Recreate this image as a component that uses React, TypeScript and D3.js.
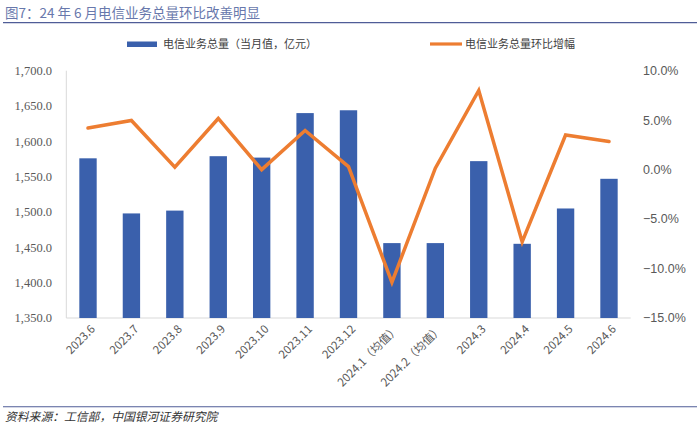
import React from "react";
import * as d3 from "d3";

const categories = [
  "2023.6", "2023.7", "2023.8", "2023.9", "2023.10", "2023.11", "2023.12",
  "2024.1（均值）", "2024.2（均值）", "2024.3", "2024.4", "2024.5", "2024.6",
];
const volumeValues = [1576, 1498, 1502, 1579, 1577, 1640, 1644, 1456, 1456, 1572, 1455, 1505, 1547];
const momValues = [4.2, 4.97, 0.25, 5.17, 0.0, 3.96, 0.3, -11.4, 0.15, 8.0, -7.3, 3.5, 2.85];
const leftTicks = [1350, 1400, 1450, 1500, 1550, 1600, 1650, 1700];
const rightTicks = [-15, -10, -5, 0, 5, 10];

const W = 700;
const H = 427;
const plotLeft = 66.3;
const plotRight = 630.7;
const plotTop = 70.7;
const plotBottom = 318;

const BAR = "#3A60AC";
const LINE = "#ED7D31";
const CJK = "'Noto Sans CJK SC', sans-serif";

export default function App() {
  const x = d3.scaleBand<string>().domain(categories).range([plotLeft, plotRight]).paddingInner(0.6).paddingOuter(0.3);
  const yL = d3.scaleLinear().domain([1350, 1700]).range([plotBottom, plotTop]);
  const yR = d3.scaleLinear().domain([-15, 10]).range([plotBottom, plotTop]);
  const fmtL = d3.format(",.1f");
  const fmtR = (v: number) => d3.format(".1f")(v) + "%";
  const cx = (c: string) => (x(c) as number) + x.bandwidth() / 2;
  const linePath = d3
    .line<number>()
    .x((_, i) => cx(categories[i]))
    .y((d) => yR(d))(momValues) as string;

  return (
    <svg width={W} height={H} style={{ position: "absolute", left: 0, top: 0, background: "#fff" }}>
      {/* Title */}
      <text x={5} y={18} fontFamily={CJK} fontSize={13.5} fill="#6878AC">
        图7：24 年 6 月电信业务总量环比改善明显
      </text>
      <line x1={3} x2={697} y1={22.7} y2={22.7} stroke="#4F5D97" strokeWidth={1.3} />

      {/* Legend */}
      <rect x={127} y={41.5} width={30} height={5.5} fill={BAR} />
      <text x={163} y={48} fontFamily={CJK} fontSize={11} fill="#404040">
        电信业务总量（当月值，亿元）
      </text>
      <line x1={430} x2={462} y1={44} y2={44} stroke={LINE} strokeWidth={3.2} />
      <text x={465} y={48} fontFamily={CJK} fontSize={11} fill="#404040">
        电信业务总量环比增幅
      </text>

      {/* Axes lines */}
      <line x1={plotLeft} x2={plotLeft} y1={plotTop} y2={plotBottom} stroke="#D9D9D9" strokeWidth={1} />
      <line x1={plotLeft} x2={plotRight} y1={plotBottom} y2={plotBottom} stroke="#D9D9D9" strokeWidth={1} />

      {/* Left ticks */}
      {leftTicks.map((t) => (
        <text key={"l" + t} x={52} y={yL(t)} dy="0.35em" textAnchor="end" fontFamily="'Liberation Serif', serif" fontSize={12.5} fill="#595959">
          {fmtL(t)}
        </text>
      ))}
      {/* Right ticks */}
      {rightTicks.map((t) => (
        <text key={"r" + t} x={643} y={yR(t)} dy="0.35em" textAnchor="start" fontFamily="'Liberation Sans', sans-serif" fontSize={12.5} fill="#595959">
          {fmtR(t)}
        </text>
      ))}

      {/* Bars */}
      {categories.map((c, i) => (
        <rect key={"b" + c} x={x(c)} y={yL(volumeValues[i])} width={x.bandwidth()} height={plotBottom - yL(volumeValues[i])} fill={BAR} />
      ))}

      {/* Line */}
      <path d={linePath} fill="none" stroke={LINE} strokeWidth={3.5} strokeLinejoin="miter" strokeLinecap="round" />

      {/* X labels */}
      {categories.map((c) => (
        <text
          key={"x" + c}
          transform={`translate(${cx(c) + 5},${plotBottom + 9}) rotate(-45)`}
          textAnchor="end"
          dy="0.35em"
          fontFamily={CJK}
          fontSize={11.5}
          fill="#595959"
        >
          {c}
        </text>
      ))}

      {/* Footer */}
      <line x1={3} x2={697} y1={406.7} y2={406.7} stroke="#4F5D97" strokeWidth={1.1} />
      <text x={5} y={421} fontFamily={CJK} fontSize={11.8} fontStyle="italic" fill="#333">
        资料来源：工信部，中国银河证券研究院
      </text>
    </svg>
  );
}
